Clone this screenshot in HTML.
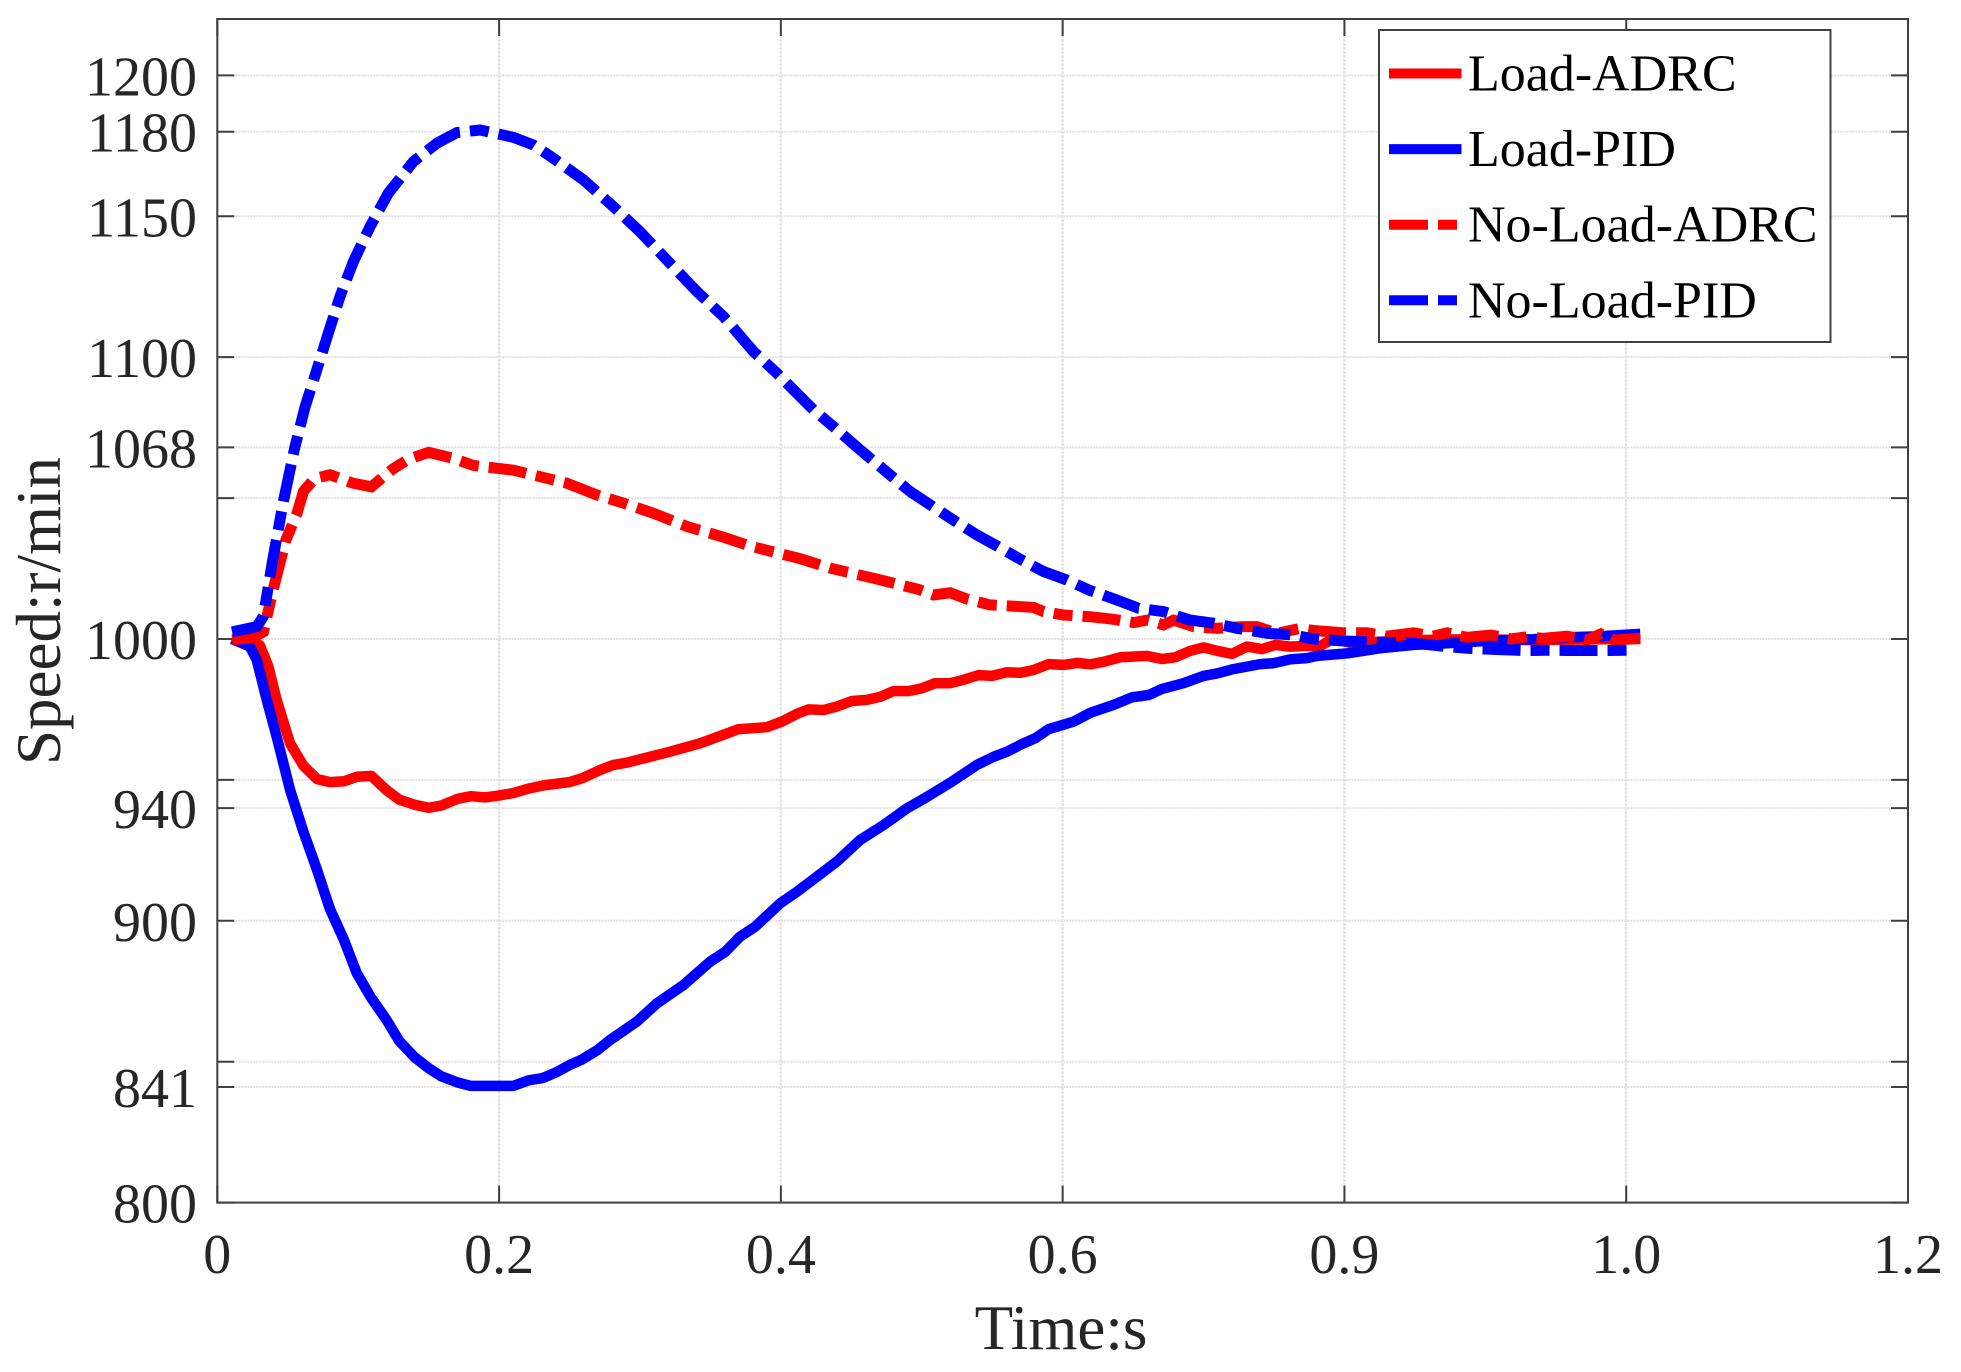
<!DOCTYPE html>
<html lang="en">
<head>
<meta charset="utf-8">
<title>Speed response chart</title>
<style>
html,body{margin:0;padding:0;background:#fff;width:1961px;height:1372px;overflow:hidden}
svg{display:block}
text{font-family:"Liberation Serif","Times New Roman",serif}
</style>
</head>
<body>
<svg id="chart" xmlns="http://www.w3.org/2000/svg" width="1961" height="1372" viewBox="0 0 1961 1372"></svg>
<script>
/* Axis tick values and labels */
const xTickValues = [0, 0.2, 0.4, 0.6, 0.8, 1.0, 1.2];
const xTickLabels = ['0', '0.2', '0.4', '0.6', '0.9', '1.0', '1.2'];
const yTickValues = [800, 841, 850, 900, 940, 950, 1000, 1050, 1068, 1100, 1150, 1180, 1200];
const yTickLabels = ['800', '841', '', '900', '940', '', '1000', '', '1068', '1100', '1150', '1180', '1200'];

/* Load-ADRC */
const loadAdrcTime = [0.0105,0.0217,0.0303,0.0362,0.042,0.0517,0.0612,0.0707,0.08,0.09,0.099,0.1094,0.12,0.129,0.14,0.15,0.159,0.1706,0.18,0.19,0.199,0.21,0.221,0.231,0.25,0.259,0.2717,0.2812,0.2906,0.3214,0.3427,0.3699,0.39,0.4007,0.4113,0.4196,0.4303,0.4397,0.4504,0.4611,0.4705,0.48,0.4906,0.5001,0.5095,0.5202,0.5297,0.5403,0.5498,0.5605,0.5699,0.5794,0.59,0.6007,0.6102,0.6196,0.629,0.6409,0.6598,0.6705,0.6799,0.6906,0.7,0.7096,0.7202,0.7308,0.7415,0.751,0.7616,0.7711,0.7829,0.7923,0.8042,0.825,0.849,0.887,0.934,0.982,1.01];
const loadAdrcSpeed = [1000,999.8,997.7,990.3,978.6,962.9,955,950.3,949.2,949.5,951.1,951.4,946.4,943,941.2,940.1,940.9,943.3,944.2,943.8,944.4,945.3,946.9,948,949.2,950.6,953.5,955.3,956.1,960,963,968,968.7,970.7,973.4,975,974.8,976,978,978.4,979.5,981.5,981.5,982.5,984.3,984.3,985.5,987.2,986.9,988.2,988,989,991.1,990.8,991.5,991,991.9,993.5,994,992.9,993.5,995.8,997,995.8,994.7,997.3,996.4,997.9,997.3,997.5,997.5,1000.2,998.6,999,999.6,999.9,999.6,999.9,1000];

/* Load-PID */
const loadPidTime = [0.0105,0.0232,0.028,0.035,0.0422,0.0517,0.0612,0.0707,0.08,0.09,0.099,0.109,0.12,0.129,0.14,0.15,0.159,0.1706,0.18,0.19,0.21,0.221,0.231,0.24,0.25,0.259,0.27,0.2788,0.2977,0.312,0.3309,0.3498,0.3605,0.3711,0.3817,0.3995,0.4114,0.4397,0.4563,0.4729,0.4895,0.5012,0.5202,0.5392,0.5509,0.5605,0.5711,0.5806,0.59,0.6078,0.6196,0.6361,0.6492,0.661,0.6705,0.6858,0.7,0.7096,0.7202,0.7403,0.7497,0.7616,0.7735,0.7806,0.8019,0.825,0.849,0.873,0.911,0.934,0.958,0.982,1.01];
const loadPidSpeed = [1000,997.3,992.6,978.6,965.2,946.4,931.5,918.2,904.1,893.1,881.4,872.8,864.9,857.4,851.6,847.7,844.8,842.6,841.4,841.4,841.4,843.4,844.2,846.1,848.8,850.8,854.2,857.7,864.2,870.7,877.2,885.5,889,894.4,897.9,906.2,910.3,921,928.7,934,939.9,943.2,949,955.3,958.2,960,962.7,964.8,968,970.7,973.8,976.6,979.3,980.1,982.3,984.3,986.9,987.8,989.2,991.1,991.4,992.8,993.2,994,994.9,996.7,997.9,998.5,999.6,999.9,1000.6,1001,1001.8];

/* No-Load-ADRC */
const noLoadAdrcTime = [0.0105,0.025,0.0327,0.0397,0.0486,0.0565,0.0612,0.069,0.08,0.096,0.1094,0.1247,0.1357,0.15,0.166,0.1817,0.21,0.2339,0.248,0.2694,0.2883,0.3096,0.334,0.36,0.378,0.4137,0.436,0.467,0.4977,0.5083,0.5202,0.532,0.5486,0.5628,0.5794,0.5865,0.6007,0.6196,0.6361,0.6504,0.6599,0.6716,0.6787,0.6929,0.7096,0.7284,0.738,0.7522,0.7687,0.778,0.8,0.816,0.83,0.849,0.863,0.873,0.887,0.904,0.918,0.93,0.941,0.958,0.972,0.982,0.991,1.01];
const noLoadAdrcSpeed = [999.7,1000.5,1002.5,1017.6,1035,1044.5,1052.4,1056.9,1058.3,1055.3,1054,1060.4,1063.8,1066.2,1064.3,1061.6,1059.9,1057,1055.3,1051.1,1048.2,1044.6,1039.8,1036,1033,1028.5,1025,1021.4,1017.6,1015.6,1016.4,1014.2,1012.1,1011.7,1011.2,1009.7,1008.5,1007.9,1007,1005.8,1006.7,1005,1006.7,1004.4,1003.8,1004.4,1004.4,1002,1003.8,1003,1002.2,1002.2,1001,1002.2,1001,1002.2,1000.6,1001.4,1000,1000.8,1000.2,1001,999.6,1001.8,999.6,1000.2];

/* No-Load-PID */
const noLoadPidTime = [0.0105,0.028,0.0327,0.039,0.047,0.055,0.0623,0.0706,0.0788,0.0871,0.0966,0.1084,0.1214,0.1392,0.1558,0.17,0.1865,0.2102,0.2244,0.2362,0.2599,0.2812,0.3001,0.3202,0.3404,0.3593,0.3806,0.3972,0.4232,0.4386,0.4563,0.4776,0.4918,0.506,0.5225,0.5392,0.5534,0.5699,0.5865,0.6031,0.6184,0.6386,0.6539,0.6716,0.6906,0.7071,0.7238,0.7451,0.7639,0.778,0.8,0.818,0.837,0.849,0.873,0.887,0.906,0.927,0.944,0.958,0.982,1.0006];
const noLoadPidSpeed = [1002.5,1004.4,1008,1027,1049,1068,1082.4,1095.5,1108.5,1121.5,1133.9,1146.3,1158.2,1169.4,1175.9,1179.7,1180.6,1178,1175.3,1171.4,1162.9,1153.4,1144.5,1133.9,1123.3,1114.4,1102,1094.3,1081.3,1074.8,1067.1,1058.2,1052.3,1047.6,1042.2,1036.9,1033,1028.3,1023.9,1020.9,1017.4,1013.8,1010.9,1009.7,1006.7,1005.6,1003.8,1002,1001.4,1000,999.3,999,998.7,998.5,997.3,996.7,996.3,995.9,996,995.9,995.9,996];

/* Legend entries */
const legendLabels = ['Load-ADRC', 'Load-PID', 'No-Load-ADRC', 'No-Load-PID'];

const NS = 'http://www.w3.org/2000/svg';
const svg = document.getElementById('chart');

const plotLeft = 217.3, plotRight = 1908, plotTop = 19, plotBottom = 1202.6;
const tickLen = 17;

function xScale(t) {
  return plotLeft + (t - 0) / 1.2 * (plotRight - plotLeft);
}
function yScale(v) {
  return plotBottom - (v - 800) / 420 * (plotBottom - plotTop);
}
function make(tag, attrs, parent) {
  const el = document.createElementNS(NS, tag);
  for (const k in attrs) el.setAttribute(k, attrs[k]);
  (parent || svg).appendChild(el);
  return el;
}

/* Gridlines */
const gridGroup = make('g', {});


xTickValues.forEach(function (v, i) {
  if (i === 0 || i === xTickValues.length - 1) return;
  const line = make('line', { x1: xScale(v), x2: xScale(v), y1: plotTop, y2: plotBottom, stroke: '#e4e4e4', 'stroke-width': 2.4, 'stroke-dasharray': '3 1' }, gridGroup);
  
  
});
yTickValues.forEach(function (v, i) {
  if (i === 0) return;
  const line = make('line', { x1: plotLeft, x2: plotRight, y1: yScale(v), y2: yScale(v), stroke: '#e0e0e0', 'stroke-width': 2, 'stroke-dasharray': '2 1' }, gridGroup);
  
  
});

/* Ticks and tick labels */
const axisColor = '#404040';
xTickValues.forEach(function (v, i) {
  const x = xScale(v);
  const bottom = make('line', { x1: x, x2: x, y1: plotBottom, y2: plotBottom - tickLen, stroke: axisColor, 'stroke-width': 2 });
  
  
  const top = make('line', { x1: x, x2: x, y1: plotTop, y2: plotTop + tickLen, stroke: axisColor, 'stroke-width': 2 });
  
  
  const label = make('text', { x: x, y: 1273, 'text-anchor': 'middle', 'font-size': 56, fill: '#262626' });
  
  
  label.textContent = xTickLabels[i];
});
yTickValues.forEach(function (v, i) {
  const y = yScale(v);
  const left = make('line', { x1: plotLeft, x2: plotLeft + tickLen, y1: y, y2: y, stroke: axisColor, 'stroke-width': 2 });
  
  
  const right = make('line', { x1: plotRight, x2: plotRight - tickLen, y1: y, y2: y, stroke: axisColor, 'stroke-width': 2 });
  
  
  if (yTickLabels[i] !== '') {
    const label = make('text', { x: 197, y: y + 20, 'text-anchor': 'end', 'font-size': 56, fill: '#262626' });
    
    
    label.textContent = yTickLabels[i];
  }
});

/* Plot frame */
const frame = make('rect', { x: plotLeft, y: plotTop, width: plotRight - plotLeft, height: plotBottom - plotTop, fill: 'none', stroke: axisColor, 'stroke-width': 2 });



/* Series */
function seriesPath(times, speeds) {
  return times.map(function (t, i) {
    return (i ? 'L' : 'M') + xScale(t).toFixed(1) + ' ' + yScale(speeds[i]).toFixed(1);
  }).join(' ');
}
const lineLoadAdrc = make('path', { d: seriesPath(loadAdrcTime, loadAdrcSpeed), fill: 'none', stroke: '#ff0000', 'stroke-width': 10.5, 'stroke-linejoin': 'round' });


const lineLoadPid = make('path', { d: seriesPath(loadPidTime, loadPidSpeed), fill: 'none', stroke: '#0000ff', 'stroke-width': 10.5, 'stroke-linejoin': 'round' });


const lineNoLoadAdrc = make('path', { d: seriesPath(noLoadAdrcTime, noLoadAdrcSpeed), fill: 'none', stroke: '#ff0000', 'stroke-width': 11, 'stroke-dasharray': '38 10 19 10' });


const lineNoLoadPid = make('path', { d: seriesPath(noLoadPidTime, noLoadPidSpeed), fill: 'none', stroke: '#0000ff', 'stroke-width': 11, 'stroke-dasharray': '38 10 19 10' });



/* Axis titles */
const xTitle = make('text', { x: 1061, y: 1349, 'text-anchor': 'middle', 'font-size': 63, fill: '#262626' });


xTitle.textContent = 'Time:s';
const yTitle = make('text', { x: 0, y: 0, transform: 'translate(60 611) rotate(-90)', 'text-anchor': 'middle', 'font-size': 63, fill: '#262626' });


yTitle.textContent = 'Speed:r/min';

/* Legend */
const legend = make('g', {});


const legendBox = make('rect', { x: 1379, y: 30, width: 451.5, height: 312, fill: '#ffffff', stroke: axisColor, 'stroke-width': 2 }, legend);


const legendColors = ['#ff0000', '#0000ff', '#ff0000', '#0000ff'];
const legendDashes = ['none', 'none', '39 10 19 500', '39 10 19 500'];
legendLabels.forEach(function (name, i) {
  const y = 73.5 + i * 75.6;
  const key = make('line', { x1: 1389, x2: 1461.5, y1: y, y2: y, stroke: legendColors[i], 'stroke-width': 10, 'stroke-dasharray': legendDashes[i] }, legend);
  
  
  const label = make('text', { x: 1468, y: y + 17, 'font-size': 52, fill: '#000000' }, legend);
  
  
  label.textContent = name;
});
</script>
</body>
</html>
